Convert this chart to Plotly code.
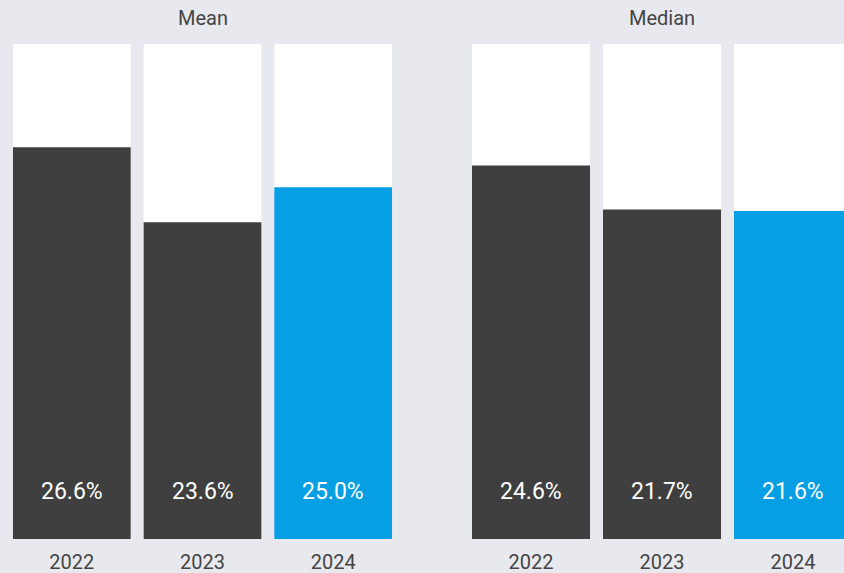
import plotly.graph_objects as go

years = ["2022", "2023", "2024"]
mean_vals = [26.6, 23.6, 25.0]
median_vals = [24.6, 21.7, 21.6]
panel_titles = ["Mean", "Median"]

DARK = "#3f3f3f"
BLUE = "#069fe3"
BG = "#e8e9ee"
TXT = "#444444"
bar_colors = [DARK, DARK, BLUE]

# per-panel value ranges (bottom, top of the white column)
mean_range = [10.9, 30.74]
median_range = [0.0, 32.6]

fig = go.Figure()

panels = [
    (mean_vals, mean_range, "x", "y"),
    (median_vals, median_range, "x2", "y2"),
]

for vals, rng, xa, ya in panels:
    fig.add_trace(go.Bar(x=years, y=[rng[1]] * len(years), marker_color="white",
                         marker_line_width=0, xaxis=xa, yaxis=ya, hoverinfo="skip",
                         showlegend=False))
    fig.add_trace(go.Bar(x=years, y=vals, marker_color=bar_colors, marker_line_width=0,
                         xaxis=xa, yaxis=ya, showlegend=False))
    for i, v in enumerate(vals):
        fig.add_annotation(x=i, y=0, xref=xa, yref=ya + " domain", yshift=48,
                           text=f"{v:.1f}%", showarrow=False, xanchor="center",
                           yanchor="middle",
                           font=dict(size=23, color="white", family="Roboto"))

fig.update_layout(
    width=844, height=573,
    margin=dict(l=0, r=0, t=44, b=34, autoexpand=False),
    paper_bgcolor=BG, plot_bgcolor=BG,
    barmode="overlay", bargap=0.0992,
    font=dict(family="Roboto", color=TXT),
    xaxis=dict(domain=[6.5 / 844, 398.5 / 844], range=[-0.5, 2.5], type="category",
               showgrid=False, zeroline=False, showline=False, ticks="",
               ticklabelstandoff=9, automargin=False,
               tickfont=dict(size=20, color=TXT, family="Roboto")),
    xaxis2=dict(domain=[465.5 / 844, 1.0], range=[-0.5, 2.389], type="category",
                showgrid=False, zeroline=False, showline=False, ticks="",
                ticklabelstandoff=9, automargin=False,
                tickfont=dict(size=20, color=TXT, family="Roboto")),
    yaxis=dict(range=mean_range, visible=False, anchor="x"),
    yaxis2=dict(range=median_range, visible=False, anchor="x2"),
)

fig.add_annotation(x=(6.5 + 398.5) / 2 / 844, y=1, xref="paper", yref="paper", yshift=26,
                   text=panel_titles[0], showarrow=False, xanchor="center", yanchor="middle",
                   font=dict(size=20, color=TXT, family="Roboto"))
fig.add_annotation(x=(465.5 + 858.5) / 2 / 844, y=1, xref="paper", yref="paper", yshift=26,
                   text=panel_titles[1], showarrow=False, xanchor="center", yanchor="middle",
                   font=dict(size=20, color=TXT, family="Roboto"))

fig.write_html("out.html")
